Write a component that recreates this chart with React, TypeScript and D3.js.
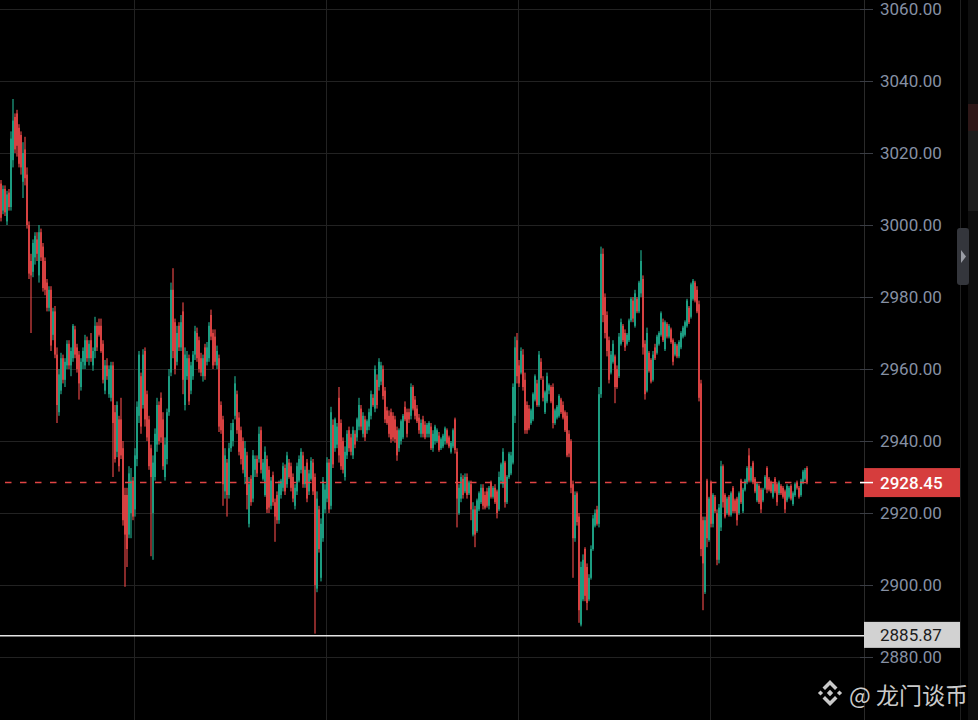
import * as d3 from 'd3'

// candle data (one candle per ~2px)
const opens = [
  3011.5, 3004, 3010, 3001, 3009, 3005, 3018, 3030, 3031, 3027,
  3025, 3012, 3021, 3014, 3000, 2990, 2987, 2991, 2996, 2986,
  2998, 2994, 2990, 2984, 2977, 2982, 2969.5, 2976, 2964, 2948,
  2954, 2963, 2957, 2961, 2967, 2961, 2963, 2971, 2966, 2964,
  2955, 2962, 2961, 2968, 2963, 2968, 2961, 2965, 2972, 2972,
  2972, 2967, 2954, 2961, 2953, 2952, 2961, 2948, 2937, 2946,
  2946, 2938, 2925, 2925, 2914, 2920, 2929, 2921, 2935, 2947,
  2958, 2950, 2965, 2953, 2946, 2938, 2920, 2930, 2939, 2950,
  2952, 2946, 2930, 2935, 2948, 2959, 2982, 2973, 2962, 2972,
  2966, 2976, 2950, 2958, 2963, 2954, 2958, 2964, 2970, 2968,
  2963, 2958, 2966, 2962, 2963, 2975, 2970, 2969, 2961, 2963,
  2950, 2946, 2926, 2934, 2925, 2938, 2940, 2947, 2953, 2946.5,
  2943, 2940, 2930, 2936, 2917, 2929.5, 2924, 2932, 2935, 2935,
  2943, 2929.5, 2925, 2935, 2932, 2922, 2930.5, 2923, 2925, 2918,
  2925, 2927, 2932.5, 2928, 2934, 2933, 2930, 2922, 2926, 2929,
  2932, 2936, 2928, 2934, 2926, 2929.5, 2934, 2930, 2899, 2921,
  2902, 2913, 2921, 2924, 2934, 2922, 2944.5, 2938, 2939, 2952,
  2945, 2940, 2930, 2936, 2943, 2941, 2936, 2942, 2941, 2944,
  2949, 2942, 2946, 2943, 2944, 2947, 2952, 2949, 2957, 2955,
  2956.5, 2960, 2954, 2948.5, 2947, 2948, 2947, 2946, 2943, 2938,
  2940, 2941, 2949.5, 2948, 2948, 2947, 2955, 2951.5, 2949, 2946.5,
  2942, 2946, 2944.5, 2942, 2942, 2944, 2938, 2940, 2940, 2941.5,
  2938, 2938.5, 2940, 2943, 2941, 2937, 2938.5, 2946, 2937, 2920,
  2924, 2929.5, 2926, 2930, 2925.5, 2928, 2914, 2921, 2915, 2921,
  2923, 2927, 2925, 2926, 2922, 2928.5, 2924.5, 2927, 2926, 2921,
  2929, 2928, 2934, 2923, 2930, 2931, 2934, 2947, 2968, 2961,
  2959, 2964, 2957, 2950, 2949, 2945, 2946, 2951.5, 2956, 2950,
  2962, 2957, 2948, 2951, 2954, 2955, 2955, 2945, 2946.5, 2947,
  2951.5, 2950, 2948, 2947, 2942, 2940, 2928, 2913, 2925.5, 2919,
  2889, 2896, 2910, 2905, 2896, 2902, 2910, 2916.5, 2921, 2917,
  2953, 2992, 2980, 2975, 2968, 2959, 2962, 2963.5, 2960, 2958,
  2967, 2972, 2970, 2967, 2968, 2973.5, 2979, 2972, 2979.5, 2976,
  2981, 2985, 2967, 2954, 2964.5, 2962.5, 2957, 2966, 2964.5, 2967,
  2969.5, 2973, 2965.5, 2972.5, 2969, 2971, 2968, 2964, 2966.5, 2963.5,
  2966, 2969, 2969.5, 2972, 2977, 2974.5, 2979.5, 2984, 2982, 2978,
  2956, 2918, 2898, 2929, 2912.5, 2928.5, 2917, 2924.5, 2920, 2907,
  2916, 2933, 2925, 2920, 2924.5, 2919.5, 2927, 2923.5, 2924, 2920,
  2929, 2920.5, 2926.5, 2928.5, 2936, 2929, 2934, 2929.5, 2923.5, 2927.5,
  2926.5, 2923.5, 2927, 2932.5, 2929.5, 2928.5, 2924.5, 2929.5, 2928, 2925.5,
  2927.5, 2927, 2926, 2923.5, 2924.5, 2927.5, 2922.5, 2925, 2928.5, 2927,
  2925, 2928.5, 2929.5, 2932.5,
]

const highs = [
  3012.5, 3011, 3011, 3009.5, 3010, 3026, 3035, 3031, 3032, 3028,
  3026, 3023, 3024.5, 3016, 3001, 2992, 2996, 2998, 2998, 3000,
  2999, 2995, 2991, 2985, 2983, 2983, 2977, 2977.5, 2966, 2960,
  2964.5, 2964, 2963, 2968, 2968, 2966, 2972.5, 2972, 2967, 2965,
  2963, 2966, 2969.5, 2969, 2968, 2970, 2966, 2974.5, 2973, 2974,
  2974, 2968, 2962.5, 2963, 2961, 2962, 2962, 2950, 2951, 2947,
  2952, 2940, 2927, 2927, 2933, 2932.5, 2930, 2938, 2951, 2965,
  2959, 2965.5, 2966, 2954, 2947, 2939, 2936, 2943.5, 2952, 2951,
  2953.5, 2948, 2941, 2949, 2960, 2984, 2988, 2974, 2972, 2973,
  2975, 2978.5, 2966, 2965, 2964, 2962, 2965, 2972, 2971.5, 2969,
  2964.5, 2964, 2967, 2967.5, 2973, 2976.5, 2971, 2971, 2966.5, 2964,
  2951, 2947, 2938, 2935, 2939.5, 2945, 2946, 2958, 2954, 2948,
  2944, 2941, 2940, 2937, 2930, 2930.5, 2937.5, 2936, 2936, 2944,
  2944, 2935, 2938.5, 2936, 2933, 2930, 2931.5, 2924, 2926, 2929,
  2929.5, 2934, 2933.5, 2937, 2935, 2934, 2931, 2928, 2934, 2936,
  2938, 2937, 2933, 2935, 2932, 2935.5, 2935, 2931, 2926, 2922,
  2918.5, 2930, 2928, 2935.5, 2935, 2949.5, 2946, 2946.5, 2945, 2955,
  2946, 2941, 2938.5, 2943, 2944, 2942, 2944, 2943, 2946.5, 2952,
  2950, 2948, 2947, 2946, 2949, 2954, 2953, 2961, 2958.5, 2963,
  2962, 2961, 2955, 2949.5, 2948.5, 2949, 2948, 2947, 2944, 2943.5,
  2946, 2947.5, 2951, 2949, 2949, 2956, 2955.5, 2952.5, 2950, 2947.5,
  2946, 2947, 2945.5, 2945, 2945.5, 2945, 2943, 2944.5, 2943.5, 2942.5,
  2941, 2942, 2944, 2943.5, 2941.5, 2940, 2943.5, 2946.5, 2938, 2928,
  2931, 2930.5, 2931, 2931, 2929, 2929, 2923, 2922, 2924, 2926,
  2928, 2928, 2926, 2927, 2927.5, 2929, 2927.5, 2928, 2926.5, 2931.5,
  2934, 2938, 2934.5, 2930.5, 2937, 2937, 2956, 2969, 2970, 2962.5,
  2966, 2965.5, 2959, 2951, 2950, 2949, 2953.5, 2958.5, 2957, 2965,
  2963, 2958, 2954, 2959, 2956, 2955.5, 2956, 2949, 2950, 2953,
  2952, 2951, 2948.5, 2948, 2943, 2940.5, 2929, 2926, 2926, 2920,
  2906.5, 2908.5, 2910.5, 2906, 2903, 2911, 2919.5, 2921, 2922, 2955,
  2994, 2993.5, 2981, 2976, 2969, 2965, 2968, 2964, 2961, 2970,
  2974, 2972.5, 2971, 2970, 2974, 2980, 2980, 2982, 2980, 2984.5,
  2993, 2986, 2968, 2971.5, 2965, 2963, 2965, 2967, 2969.5, 2970.5,
  2976, 2974, 2973.5, 2973, 2972.5, 2971.5, 2968.5, 2967.5, 2967, 2968,
  2970.5, 2972, 2973.5, 2979.5, 2977.5, 2984, 2985, 2984.5, 2983, 2979,
  2957, 2919, 2919, 2929.5, 2924.5, 2929, 2925.5, 2925, 2921, 2922.5,
  2934.5, 2933.5, 2925.5, 2924.5, 2925, 2926, 2927.5, 2924, 2924.5, 2926,
  2929.5, 2927, 2929.5, 2933, 2938, 2933, 2934.5, 2930, 2928.5, 2928,
  2927, 2927, 2930.5, 2933, 2930, 2929, 2928.5, 2930, 2928.5, 2929,
  2928, 2927.5, 2926.5, 2928, 2927.5, 2928, 2926, 2928.5, 2929, 2927.5,
  2929.5, 2932, 2932.5, 2933,
]

const lows = [
  3001, 3003, 3002.5, 3000, 3004, 3004, 3016, 3020, 3019, 3016,
  3014, 3007.5, 3011, 2999, 2985, 2970, 2985.5, 2989, 2990, 2984,
  2990, 2981.5, 2980.5, 2976, 2976, 2965, 2968, 2963, 2945, 2947,
  2953, 2956, 2955, 2960, 2960, 2958, 2962, 2963, 2959, 2951.5,
  2954, 2960, 2960, 2962, 2961, 2962, 2959.5, 2963, 2965, 2969,
  2964.5, 2956, 2953, 2957, 2952, 2951, 2930, 2934, 2935.5, 2931.5,
  2935, 2916.5, 2899.5, 2905, 2913, 2913, 2918, 2919, 2933, 2945,
  2942, 2949, 2944, 2940, 2932, 2908, 2907, 2929, 2937, 2939,
  2939.5, 2932, 2929, 2933.5, 2947, 2958, 2963, 2958.5, 2961, 2965,
  2965, 2953, 2948.5, 2957, 2950, 2953, 2957, 2962.5, 2962, 2959,
  2958, 2956.5, 2957, 2961, 2962, 2968, 2960, 2961, 2960, 2942.5,
  2942, 2922, 2924, 2919, 2924, 2937, 2938.5, 2946, 2942, 2936,
  2933.5, 2931, 2928, 2921, 2916, 2922, 2923, 2930, 2930, 2934,
  2931, 2929, 2924.5, 2920, 2920, 2921, 2922, 2912, 2917, 2917,
  2924, 2926, 2925, 2927, 2929.5, 2926, 2923, 2921, 2925, 2928.5,
  2931, 2927, 2927, 2923, 2925, 2929, 2925, 2886.5, 2898, 2909,
  2901, 2912, 2920, 2923, 2920, 2921, 2932.5, 2937, 2938, 2934,
  2932, 2931, 2929, 2935, 2937, 2936, 2935, 2938, 2940, 2943,
  2943, 2941, 2940, 2942, 2943, 2946, 2949.5, 2948, 2949, 2954,
  2955.5, 2951.5, 2945, 2944.5, 2941, 2939.5, 2940, 2939.5, 2934.5, 2937,
  2939, 2940.5, 2945.5, 2941, 2945, 2946, 2948.5, 2946, 2945, 2942,
  2941, 2941, 2940.5, 2941, 2941, 2937.5, 2937, 2939, 2939.5, 2937,
  2937.5, 2938, 2939, 2939, 2938, 2936.5, 2938, 2936.5, 2916, 2919.5,
  2923, 2924, 2925.5, 2924, 2925, 2918, 2913.5, 2910.5, 2914.5, 2920.5,
  2922.5, 2921, 2921, 2921.5, 2921, 2924, 2924, 2922.5, 2918.5, 2920.5,
  2928, 2927, 2921.5, 2922.5, 2929.5, 2930.5, 2933.5, 2945, 2956, 2955,
  2958.5, 2954, 2942, 2942, 2943, 2944.5, 2945.5, 2951, 2949.5, 2949.5,
  2957, 2951, 2947.5, 2950.5, 2953, 2950.5, 2943.5, 2944.5, 2946, 2946.5,
  2947.5, 2946, 2942.5, 2935.5, 2935.5, 2925.5, 2902, 2912, 2916.5, 2889.5,
  2888.5, 2895.5, 2895.5, 2893, 2895.5, 2901.5, 2909.5, 2916, 2916.5, 2916,
  2952, 2973, 2968.5, 2963.5, 2956, 2958.5, 2961.5, 2950.5, 2954.5, 2957.5,
  2966.5, 2967.5, 2965, 2966.5, 2967.5, 2973, 2973, 2971.5, 2975.5, 2975.5,
  2980, 2964, 2951.5, 2953.5, 2959, 2956, 2956.5, 2962.5, 2964, 2966.5,
  2969, 2967.5, 2965, 2968.5, 2968.5, 2967, 2961, 2963.5, 2963, 2963,
  2965.5, 2968.5, 2969, 2971.5, 2972.5, 2974, 2979, 2978.5, 2975.5, 2951,
  2908, 2893, 2897.5, 2910.5, 2912, 2916, 2916, 2920, 2905.5, 2906,
  2915, 2921.5, 2918.5, 2919.5, 2919, 2919, 2920, 2920, 2916.5, 2919.5,
  2922.5, 2920, 2926, 2928, 2928.5, 2928.5, 2928, 2925.5, 2923, 2922.5,
  2920, 2923, 2926.5, 2925.5, 2926, 2925.5, 2924, 2925.5, 2922, 2925,
  2925, 2924, 2920, 2923, 2924, 2923.5, 2922, 2924.5, 2926.5, 2924,
  2924.5, 2928, 2929, 2928,
]

const closes = [
  3002, 3010, 3003.5, 3008.5, 3005, 3024, 3029, 3021, 3022, 3017,
  3016, 3020, 3013, 3000, 2986.5, 2986, 2995, 2997, 2992, 2998,
  2991, 2982.5, 2982, 2977, 2982, 2966.5, 2976, 2964, 2950, 2958.5,
  2963, 2957, 2962, 2967, 2961, 2965, 2972, 2964, 2960, 2956,
  2962, 2965, 2968, 2963, 2967, 2963, 2965, 2972, 2966, 2969.5,
  2965, 2957, 2961, 2958, 2960, 2961, 2945, 2935, 2950, 2933,
  2936, 2918, 2914, 2910, 2931, 2929, 2919, 2936, 2949.5, 2964,
  2944, 2964, 2946, 2941, 2933, 2930, 2934, 2942, 2950, 2940,
  2941, 2933, 2939, 2948, 2958, 2982, 2965, 2960, 2970, 2966,
  2973, 2957, 2964, 2963, 2951, 2961, 2964, 2970.5, 2963, 2960,
  2959, 2963, 2958, 2966, 2972, 2969, 2961, 2962, 2965, 2944,
  2943, 2928, 2936, 2925, 2938, 2943, 2945, 2956, 2943, 2937,
  2935, 2932, 2938, 2925, 2928, 2923, 2936, 2935, 2931, 2942,
  2932, 2934, 2937, 2921, 2921.5, 2929, 2923, 2919, 2918, 2928,
  2929, 2933, 2926, 2936, 2930, 2927, 2924, 2927, 2933, 2935,
  2937, 2928, 2932, 2924, 2931, 2934.5, 2926, 2900, 2924, 2910,
  2917, 2929, 2926.5, 2934, 2921, 2948, 2933.5, 2946, 2944, 2936,
  2933, 2932, 2937, 2942, 2938, 2937, 2943, 2939, 2946, 2950,
  2944, 2947, 2941, 2945.5, 2948, 2953, 2950, 2960, 2950, 2962,
  2961, 2952.5, 2946, 2945, 2942, 2940.5, 2941, 2940.5, 2936, 2943,
  2945.5, 2947, 2946, 2942, 2946, 2955, 2949, 2947, 2945.5, 2943,
  2945, 2942, 2941, 2944.5, 2945, 2938, 2942, 2944, 2943, 2937.5,
  2940.5, 2941.5, 2943.5, 2939.5, 2938.5, 2939.5, 2943, 2937.5, 2924, 2927,
  2930, 2925, 2930, 2925, 2928.5, 2921, 2921, 2914, 2923.5, 2925.5,
  2927, 2922, 2921.5, 2922, 2927, 2924.5, 2927, 2923, 2920, 2930,
  2933.5, 2937, 2923, 2930, 2936.5, 2936, 2955, 2966, 2958, 2956,
  2965, 2955, 2943, 2943, 2943.5, 2948.5, 2953, 2958, 2950, 2964,
  2957.5, 2952, 2953.5, 2958, 2955.5, 2951, 2945, 2948.5, 2949.5, 2952.5,
  2948, 2946.5, 2943, 2936, 2936.5, 2927, 2913, 2925, 2917.5, 2893,
  2905, 2907, 2897, 2895, 2902, 2910, 2918.5, 2920, 2917, 2953,
  2992, 2975, 2970, 2965, 2957, 2964, 2967, 2955, 2955, 2969,
  2973, 2968, 2966, 2969.5, 2973.5, 2979.5, 2974, 2981, 2976, 2984,
  2990, 2966, 2953, 2970, 2959.5, 2956.5, 2964, 2963, 2969, 2970,
  2975.5, 2968, 2973, 2969, 2972, 2967.5, 2962, 2967, 2963.5, 2967.5,
  2970, 2971.5, 2973, 2979, 2973, 2983.5, 2984.5, 2979, 2976, 2952,
  2910, 2906, 2918, 2913, 2924, 2917, 2925, 2920.5, 2907, 2921.5,
  2933, 2923, 2919, 2924, 2919.5, 2925.5, 2920.5, 2920.5, 2918, 2925.5,
  2923, 2926.5, 2929, 2932.5, 2929, 2932.5, 2928.5, 2926, 2928, 2923,
  2921, 2926.5, 2930, 2926.5, 2926.5, 2926, 2928, 2926, 2923, 2928.5,
  2925.5, 2924.5, 2921, 2927.5, 2927, 2924, 2925.5, 2928, 2927, 2924.5,
  2929, 2931.5, 2932, 2928.45,
]

const priceTicks = [3060, 3040, 3020, 3000, 2980, 2960, 2940, 2920, 2900, 2880]
// session boundaries, in candle index units
const sessionBreaks = [66.5, 162.5, 258.5, 354.5]
const lastPrice = 2928.45
const markPrice = 2885.87
const watermark = '@ 龙门谈币'

const UP = '#1fa487'
const DOWN = '#e04444'
const GRID = '#222222'
const AXIS_TEXT = '#8690a4'
const FONT = 'Roboto, "Noto Sans", sans-serif'

export default function App() {
  const width = 978
  const height = 720
  const plotRight = 864

  const y = d3.scaleLinear().domain([2880, 3060]).range([657, 9])
  const x = d3.scaleLinear().domain([0, opens.length - 1]).range([1, 807])

  const bodyW = 1.8
  const wickW = 1.2

  return (
    <div style={{ position: 'fixed', left: 0, top: 0, width, height, background: '#000' }}>
      <svg width={width} height={height} style={{ display: 'block', background: '#000' }}>
        {/* horizontal grid */}
        {priceTicks.map(p => (
          <line key={'h' + p} x1={0} x2={plotRight} y1={Math.round(y(p)) + 0.5} y2={Math.round(y(p)) + 0.5}
            stroke={GRID} strokeWidth={1} />
        ))}
        {/* vertical grid */}
        {sessionBreaks.map(b => (
          <line key={'v' + b} x1={Math.round(x(b)) + 0.5} x2={Math.round(x(b)) + 0.5} y1={0} y2={height}
            stroke={GRID} strokeWidth={1} />
        ))}

        {/* candles */}
        <g>
          {opens.map((o, i) => {
            const c = closes[i]
            const up = c >= o
            const col = up ? UP : DOWN
            const cx = x(i)
            const top = y(Math.max(o, c))
            const bot = y(Math.min(o, c))
            return (
              <g key={i}>
                <rect x={cx - wickW / 2} y={y(highs[i])} width={wickW} height={Math.max(1, y(lows[i]) - y(highs[i]))} fill={col} />
                <rect x={cx - bodyW / 2} y={top} width={bodyW} height={Math.max(1, bot - top)} fill={col} />
              </g>
            )
          })}
        </g>

        {/* marked level */}
        <line x1={0} x2={plotRight} y1={y(markPrice)} y2={y(markPrice)} stroke="#e4e4e4" strokeWidth={1.5} />
        {/* last price line */}
        <line x1={0} x2={plotRight} y1={y(lastPrice)} y2={y(lastPrice)} stroke={DOWN} strokeWidth={1.5}
          strokeDasharray="6.5 8.5" strokeDashoffset={10} />

        {/* price axis */}
        <line x1={plotRight + 0.5} x2={plotRight + 0.5} y1={0} y2={height} stroke="#2a2a2a" strokeWidth={1} />
        {priceTicks.map(p => (
          <g key={'t' + p}>
            <line x1={860} x2={873} y1={Math.round(y(p)) + 0.5} y2={Math.round(y(p)) + 0.5} stroke="#3a3d44" strokeWidth={1} />
            <text x={880} y={y(p)} dy="0.36em" fill={AXIS_TEXT} fontFamily={FONT} fontSize={17}>
              {d3.format('.2f')(p)}
            </text>
          </g>
        ))}

        {/* last price label */}
        <rect x={plotRight} y={y(lastPrice) - 14.5} width={96} height={29} fill="#d63d3d" />
        <line x1={860} x2={873} y1={y(lastPrice)} y2={y(lastPrice)} stroke="#ffffff" strokeWidth={1.5} />
        <text x={880} y={y(lastPrice)} dy="0.36em" fill="#ffffff" fontFamily={FONT} fontSize={17} fontWeight={500}>
          {d3.format('.2f')(lastPrice)}
        </text>

        {/* marked level label */}
        <rect x={plotRight} y={y(markPrice) - 14} width={96} height={26} fill="#d2d2d2" />
        <text x={880} y={y(markPrice) - 1} dy="0.36em" fill="#1c1c1c" fontFamily={FONT} fontSize={17}>
          {d3.format('.2f')(markPrice)}
        </text>

        {/* right side strip */}
        <line x1={960.5} x2={960.5} y1={0} y2={height} stroke="#1e1e1e" strokeWidth={1} />
        <rect x={968} y={0} width={10} height={height} fill="#0e0e0e" />
        <rect x={968} y={104} width={10} height={27} fill="#2e1818" />
        <rect x={968} y={131} width={10} height={80} fill="#1d1d1d" />
        <rect x={957} y={228} width={12} height={57} rx={3} fill="#34363c" />
        <path d="M961,250 L966,256.5 L961,263 Z" fill="#9a9da5" />

        {/* watermark */}
        <g transform="translate(830,693)" fill="#dcdcdc" opacity={0.92}>
          <path d="M0,-13 L7.5,-5.5 L5,-3 L0,-8 L-5,-3 L-7.5,-5.5 Z" />
          <path d="M0,13 L7.5,5.5 L5,3 L0,8 L-5,3 L-7.5,5.5 Z" />
          <path d="M0,-3.2 L3.2,0 L0,3.2 L-3.2,0 Z" />
          <path d="M-9.5,-2.6 L-6.9,0 L-9.5,2.6 L-12.1,0 Z" />
          <path d="M9.5,-2.6 L12.1,0 L9.5,2.6 L6.9,0 Z" />
        </g>
        <text x={849} y={704} fill="#dcdcdc" opacity={0.92} fontFamily={'"Noto Sans CJK SC", "Noto Sans", sans-serif'} fontSize={23}>
          {watermark}
        </text>
      </svg>
    </div>
  )
}
